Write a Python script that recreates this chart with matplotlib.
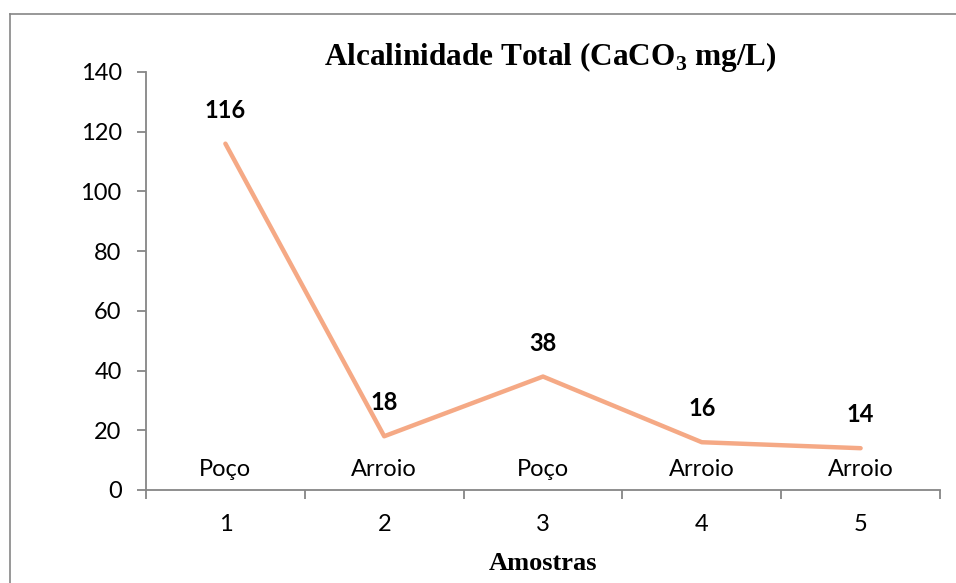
import matplotlib.pyplot as plt
from matplotlib.lines import Line2D

amostras = [1, 2, 3, 4, 5]
alcalinidade = [116, 18, 38, 16, 14]
origem = ["Poço", "Arroio", "Poço", "Arroio", "Arroio"]
y_ticks = [0, 20, 40, 60, 80, 100, 120, 140]

plt.rcParams["mathtext.fontset"] = "custom"
plt.rcParams["mathtext.rm"] = "Liberation Serif:bold"

W, H = 956, 583
figure = plt.figure(figsize=(W / 100, H / 100), dpi=100)
axis = figure.add_axes([146 / W, 1 - 490 / H, (940 - 146) / W, (490 - 72) / H])

axis.plot(amostras, alcalinidade, color="#F5A985", linewidth=3.2, solid_capstyle="round", zorder=3)

label_font = {"family": ["Lato", "DejaVu Sans"], "size": 17}
for x, y in zip(amostras, alcalinidade):
    axis.annotate(str(y), (x, y), xytext=(0, 24), textcoords="offset points",
                  ha="center", va="center", fontweight="bold", **label_font)
for x, name in zip(amostras, origem):
    axis.text(x, 3.2, name, ha="center", va="bottom", **label_font)

axis.set_xlim(0.5, 5.5)
axis.set_ylim(0, 140)
axis.set_yticks(y_ticks)
axis.set_xticks([0.5, 1.5, 2.5, 3.5, 4.5, 5.5])
axis.set_xticklabels([])
axis.set_xticks(amostras, minor=True)
axis.set_xticklabels([str(a) for a in amostras], minor=True)
axis.tick_params(axis="x", which="minor", length=0, pad=17)
axis.tick_params(axis="both", which="major", color="#868686", length=6.5, width=1.3)
axis.tick_params(axis="y", pad=11)
for lbl in axis.get_yticklabels() + axis.get_xticklabels(minor=True):
    lbl.set_family(["Lato", "DejaVu Sans"])
    lbl.set_fontsize(17)

for side in ("top", "right"):
    axis.spines[side].set_visible(False)
for side in ("left", "bottom"):
    axis.spines[side].set_color("#868686")
    axis.spines[side].set_linewidth(1.3)

figure.text(550 / W, 1 - 57 / H, "Alcalinidade Total (CaCO$_3$ mg/L)", ha="center", va="center",
            family="Liberation Serif", fontweight="bold", fontsize=22.5)
figure.text(543 / W, 1 - 563 / H, "Amostras", ha="center", va="center",
            family="Liberation Serif", fontweight="bold", fontsize=19)

# outer chart border (left and top edges visible)
figure.add_artist(Line2D([9.5 / W, 9.5 / W], [0, 1 - 13.5 / H], transform=figure.transFigure,
                         color="#868686", linewidth=1.2))
figure.add_artist(Line2D([9.5 / W, 1], [1 - 13.5 / H, 1 - 13.5 / H], transform=figure.transFigure,
                         color="#868686", linewidth=1.2))

figure.savefig("out.png", dpi=100, facecolor="white")
